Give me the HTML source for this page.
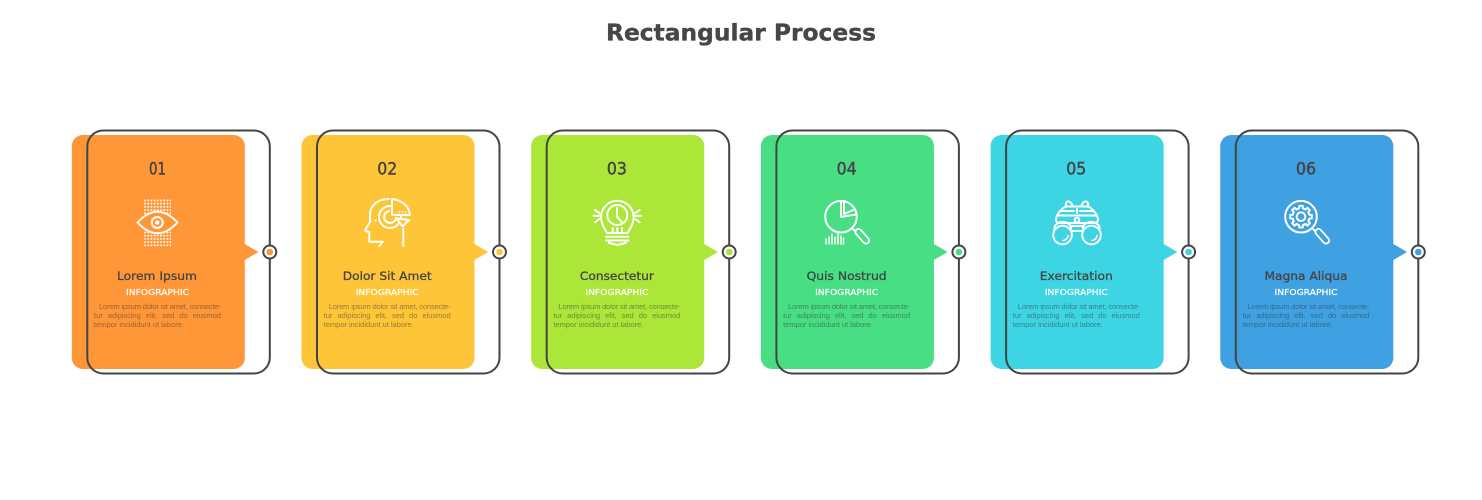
<!DOCTYPE html>
<html>
<head>
<meta charset="utf-8">
<style>
html,body{margin:0;padding:0;background:#fff;width:1482px;height:500px;overflow:hidden}
svg{display:block}
.t{font-family:"DejaVu Sans",sans-serif;font-weight:700;fill:#464646;stroke:#464646;stroke-width:.35}
.n{font-family:"DejaVu Sans",sans-serif;font-size:16.5px;fill:#444;stroke:#444;stroke-width:.45}
.h{font-family:"DejaVu Sans",sans-serif;font-size:11.4px;fill:#444;stroke:#444;stroke-width:.28}
.s{font-family:"DejaVu Sans",sans-serif;font-size:8px;fill:#fff;stroke:#fff;stroke-width:.2}
.b{font-family:"Liberation Sans",sans-serif;font-size:7.6px;fill:#333;fill-opacity:.42;stroke:#333;stroke-opacity:.12;stroke-width:.2}
.o{fill:none;stroke:#444;stroke-width:2}
.c{fill:#fff;stroke:#444;stroke-width:2}
.i{fill:none;stroke:#fff;stroke-width:2;stroke-linecap:round;stroke-linejoin:round}
</style>
</head>
<body>
<svg width="1482" height="500" viewBox="0 0 1482 500" xmlns="http://www.w3.org/2000/svg">
<defs>
<pattern id="dots" x="144" y="199.500" width="3.200" height="3.200" patternUnits="userSpaceOnUse"><circle cx="1" cy="1" r="0.950" fill="#fff"/></pattern>
<path id="tooth" d="M-3.25 -7.85L-1.91 -8.28L-1.72 -10.86H1.72L1.91 -8.28L3.25 -7.85"/>
</defs>
<rect width="1482" height="500" fill="#fff"/>
<text class="t" x="741" y="40.500" font-size="23" text-anchor="middle" textLength="270" lengthAdjust="spacingAndGlyphs">Rectangular Process</text>

<!-- Card 1 -->
<g>
<rect x="71.800" y="135" width="173" height="234" rx="11" fill="#FF9738"/>
<path d="M244 243.500L258.500 252L244 260.500Z" fill="#FF9738"/>
<rect class="o" x="87.300" y="130.500" width="182.500" height="243" rx="16"/>
<circle class="c" cx="269.800" cy="252" r="6.500"/><circle cx="269.800" cy="252" r="3.300" fill="#FF9738"/>
<text class="n" x="157.500" y="174.300" text-anchor="middle" textLength="17" lengthAdjust="spacingAndGlyphs">01</text>
<text class="h" x="157" y="280" text-anchor="middle" textLength="80" lengthAdjust="spacingAndGlyphs">Lorem Ipsum</text>
<text class="s" x="157.500" y="295" text-anchor="middle" textLength="63" lengthAdjust="spacingAndGlyphs">INFOGRAPHIC</text>
<text class="b" x="99" y="309" textLength="122">Lorem ipsum dolor sit amet, consecte-</text>
<text class="b" x="94" y="318" textLength="127" word-spacing="3">tur adipiscing elit, sed do eiusmod</text>
<text class="b" x="94" y="327" textLength="90">tempor incididunt ut labore.</text>
</g>
<rect x="144" y="199.500" width="27" height="47" fill="url(#dots)"/>
<g class="i">
<path d="M137.500 222.500Q157.500 201 177.500 222.500Q157.500 244 137.500 222.500Z" fill="#FF9738"/>
<circle cx="157.300" cy="222.500" r="5.500"/>
<circle cx="157.300" cy="222.500" r="1.200"/>
</g>

<!-- Card 2 -->
<g transform="translate(229.700 0)">
<rect x="71.800" y="135" width="173" height="234" rx="11" fill="#FFC538"/>
<path d="M244 243.500L258.500 252L244 260.500Z" fill="#FFC538"/>
<rect class="o" x="87.300" y="130.500" width="182.500" height="243" rx="16"/>
<circle class="c" cx="269.800" cy="252" r="6.500"/><circle cx="269.800" cy="252" r="3.300" fill="#FFC538"/>
<text class="n" x="157.500" y="174.300" text-anchor="middle" textLength="20" lengthAdjust="spacingAndGlyphs">02</text>
<text class="h" x="157.500" y="280" text-anchor="middle" textLength="89" lengthAdjust="spacingAndGlyphs">Dolor Sit Amet</text>
<text class="s" x="157.500" y="295" text-anchor="middle" textLength="63" lengthAdjust="spacingAndGlyphs">INFOGRAPHIC</text>
<text class="b" x="99" y="309" textLength="122">Lorem ipsum dolor sit amet, consecte-</text>
<text class="b" x="94" y="318" textLength="127" word-spacing="3">tur adipiscing elit, sed do eiusmod</text>
<text class="b" x="94" y="327" textLength="90">tempor incididunt ut labore.</text>
</g>
<g class="i">
<path d="M389 199C377 199 370 206 370 215V222L365 230.500L369.300 232.300V241.700H382.700L379.300 246"/>
<circle cx="390" cy="217" r="11"/>
<path d="M396 218A6 6 0 1 1 389 211"/>
<path d="M392 199C402 200 409 206 410 215H392Z" fill="#FFC538"/>
<path d="M396.500 218.500L409 220L402.500 226.500Z" fill="#FFC538"/>
<path d="M403.300 229V246"/>
<path d="M399.500 212h.2M402.500 212h.2M405.500 212h.2" stroke-width="1.500"/>
<circle cx="375.500" cy="220.500" r=".6" stroke-width="1"/>
</g>

<!-- Card 3 -->
<g transform="translate(459.400 0)">
<rect x="71.800" y="135" width="173" height="234" rx="11" fill="#ABE639"/>
<path d="M244 243.500L258.500 252L244 260.500Z" fill="#ABE639"/>
<rect class="o" x="87.300" y="130.500" width="182.500" height="243" rx="16"/>
<circle class="c" cx="269.800" cy="252" r="6.500"/><circle cx="269.800" cy="252" r="3.300" fill="#ABE639"/>
<text class="n" x="157.500" y="174.300" text-anchor="middle" textLength="20" lengthAdjust="spacingAndGlyphs">03</text>
<text class="h" x="157.500" y="280" text-anchor="middle" textLength="74" lengthAdjust="spacingAndGlyphs">Consectetur</text>
<text class="s" x="157.500" y="295" text-anchor="middle" textLength="63" lengthAdjust="spacingAndGlyphs">INFOGRAPHIC</text>
<text class="b" x="99" y="309" textLength="122">Lorem ipsum dolor sit amet, consecte-</text>
<text class="b" x="94" y="318" textLength="127" word-spacing="3">tur adipiscing elit, sed do eiusmod</text>
<text class="b" x="94" y="327" textLength="90">tempor incididunt ut labore.</text>
</g>
<g class="i">
<path d="M607 233C604 228 601 223 601 217A16.300 16.300 0 0 1 633.600 217C633.600 223 630.600 228 627.600 233Z"/>
<circle cx="617.300" cy="215" r="10"/>
<path d="M617 208V216.700L622 222.500"/>
<path d="M612.700 228V233M617.300 228V233M622 228V233"/>
<path d="M606 236.700H628.500M606 240.500H628.500M609 241V243L617.300 245L625.600 243V241"/>
<path d="M595 210L599.300 213M593.300 215.700H599.300M595 222.300L599.300 219M639.600 210L635.300 213M641.300 215.700H635.300M639.600 222.300L635.300 219"/>
</g>

<!-- Card 4 -->
<g transform="translate(689.100 0)">
<rect x="71.800" y="135" width="173" height="234" rx="11" fill="#48DE84"/>
<path d="M244 243.500L258.500 252L244 260.500Z" fill="#48DE84"/>
<rect class="o" x="87.300" y="130.500" width="182.500" height="243" rx="16"/>
<circle class="c" cx="269.800" cy="252" r="6.500"/><circle cx="269.800" cy="252" r="3.300" fill="#48DE84"/>
<text class="n" x="157.500" y="174.300" text-anchor="middle" textLength="20" lengthAdjust="spacingAndGlyphs">04</text>
<text class="h" x="157.500" y="280" text-anchor="middle" textLength="80" lengthAdjust="spacingAndGlyphs">Quis Nostrud</text>
<text class="s" x="157.500" y="295" text-anchor="middle" textLength="63" lengthAdjust="spacingAndGlyphs">INFOGRAPHIC</text>
<text class="b" x="99" y="309" textLength="122">Lorem ipsum dolor sit amet, consecte-</text>
<text class="b" x="94" y="318" textLength="127" word-spacing="3">tur adipiscing elit, sed do eiusmod</text>
<text class="b" x="94" y="327" textLength="90">tempor incididunt ut labore.</text>
</g>
<g class="i">
<circle cx="841" cy="216.700" r="15.800"/>
<path d="M841 201V217L856.700 214.300"/>
<path d="M844 201.500V214L855 209.300"/>
<path d="M853 229L856 232"/>
<line x1="858.500" y1="232" x2="866" y2="240.500" stroke-width="8"/>
<line x1="858.500" y1="232" x2="866" y2="240.500" stroke="#48DE84" stroke-width="4.400"/>
<path d="M826 244V239M829 244V237M832 244V234M835 244V237M838 244V234M841 244V236M843.500 244V238" stroke-width="1.500"/>
</g>

<!-- Card 5 -->
<g transform="translate(918.800 0)">
<rect x="71.800" y="135" width="173" height="234" rx="11" fill="#3DD4E3"/>
<path d="M244 243.500L258.500 252L244 260.500Z" fill="#3DD4E3"/>
<rect class="o" x="87.300" y="130.500" width="182.500" height="243" rx="16"/>
<circle class="c" cx="269.800" cy="252" r="6.500"/><circle cx="269.800" cy="252" r="3.300" fill="#3DD4E3"/>
<text class="n" x="157.500" y="174.300" text-anchor="middle" textLength="20" lengthAdjust="spacingAndGlyphs">05</text>
<text class="h" x="157.500" y="280" text-anchor="middle" textLength="73" lengthAdjust="spacingAndGlyphs">Exercitation</text>
<text class="s" x="157.500" y="295" text-anchor="middle" textLength="63" lengthAdjust="spacingAndGlyphs">INFOGRAPHIC</text>
<text class="b" x="99" y="309" textLength="122">Lorem ipsum dolor sit amet, consecte-</text>
<text class="b" x="94" y="318" textLength="127" word-spacing="3">tur adipiscing elit, sed do eiusmod</text>
<text class="b" x="94" y="327" textLength="90">tempor incididunt ut labore.</text>
</g>
<g class="i">
<path d="M1056 220C1056 215 1062 207 1067 206.500H1087C1092 207 1098 215 1098 220C1098 222 1096 223 1094 223H1060C1058 223 1056 222 1056 220Z"/>
<path d="M1066 206.500C1065 203 1067 201 1069 201.500C1071 202 1072 204 1073 206.500M1081 206.500C1082 204 1083 202 1085 201.500C1087 201 1089 203 1088 206.500"/>
<path d="M1061 211H1074M1080 211H1093M1058 215.500H1096M1077 209V213"/>
<circle cx="1077" cy="220" r="2.300" fill="#3DD4E3"/>
<path d="M1054.500 229C1054 225 1058 222 1063 222C1068 222 1071 225 1071 229M1083 229C1083 225 1086 222 1091 222C1096 222 1100 225 1099.500 229"/>
<path d="M1071 226H1083M1072 231H1082"/>
<circle cx="1062.500" cy="235" r="9.300" fill="#3DD4E3"/>
<circle cx="1091.500" cy="235" r="9.300" fill="#3DD4E3"/>
<path d="M1063 240.500C1065.500 240.500 1068 238 1068 235.500M1092 240.500C1094.500 240.500 1097 238 1097 235.500" stroke-width="1.500"/>
</g>

<!-- Card 6 -->
<g transform="translate(1148.500 0)">
<rect x="71.800" y="135" width="173" height="234" rx="11" fill="#3FA1E2"/>
<path d="M244 243.500L258.500 252L244 260.500Z" fill="#3FA1E2"/>
<rect class="o" x="87.300" y="130.500" width="182.500" height="243" rx="16"/>
<circle class="c" cx="269.800" cy="252" r="6.500"/><circle cx="269.800" cy="252" r="3.300" fill="#3FA1E2"/>
<text class="n" x="157.500" y="174.300" text-anchor="middle" textLength="20" lengthAdjust="spacingAndGlyphs">06</text>
<text class="h" x="157.500" y="280" text-anchor="middle" textLength="83" lengthAdjust="spacingAndGlyphs">Magna Aliqua</text>
<text class="s" x="157.500" y="295" text-anchor="middle" textLength="63" lengthAdjust="spacingAndGlyphs">INFOGRAPHIC</text>
<text class="b" x="99" y="309" textLength="122">Lorem ipsum dolor sit amet, consecte-</text>
<text class="b" x="94" y="318" textLength="127" word-spacing="3">tur adipiscing elit, sed do eiusmod</text>
<text class="b" x="94" y="327" textLength="90">tempor incididunt ut labore.</text>
</g>
<g class="i">
<circle cx="1301" cy="216.700" r="15.800"/>
<circle cx="1301" cy="216.700" r="4.300"/>
<g transform="translate(1301 216.700)">
<use href="#tooth"/>
<use href="#tooth" transform="rotate(45)"/>
<use href="#tooth" transform="rotate(90)"/>
<use href="#tooth" transform="rotate(135)"/>
<use href="#tooth" transform="rotate(180)"/>
<use href="#tooth" transform="rotate(225)"/>
<use href="#tooth" transform="rotate(270)"/>
<use href="#tooth" transform="rotate(315)"/>
</g>
<path d="M1313 229L1316 232"/>
<line x1="1318.500" y1="232" x2="1326" y2="240.500" stroke-width="8"/>
<line x1="1318.500" y1="232" x2="1326" y2="240.500" stroke="#3FA1E2" stroke-width="4.400"/>
</g>
</svg>
</body>
</html>
